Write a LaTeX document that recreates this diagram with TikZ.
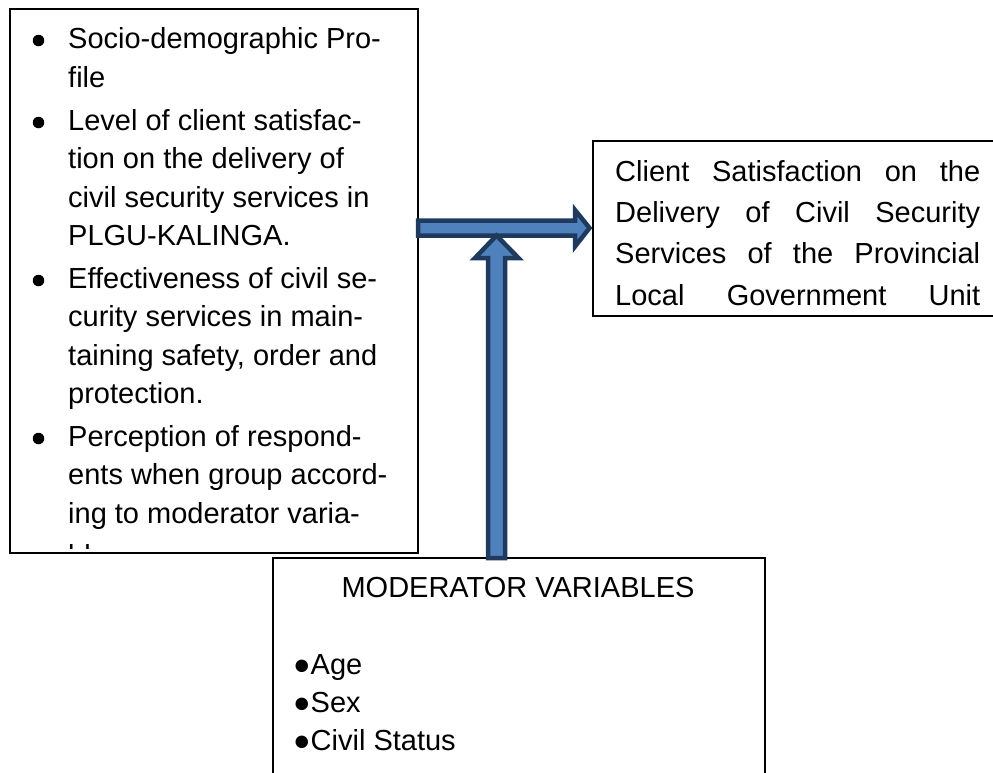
\documentclass[tikz,border=0pt]{standalone}
\usepackage{fontspec}
\setmainfont{Liberation Sans}
\definecolor{arrowfill}{HTML}{4F81BD}
\definecolor{arrowline}{HTML}{1F3A5F}
\tikzset{
  boxframe/.style={draw=black, line width=1.6pt, fill=none},
  txt/.style={anchor=base west, inner sep=0pt, font=\fontsize{29}{38.5}\selectfont},
  ctxt/.style={anchor=base, inner sep=0pt, font=\fontsize{29}{38.5}\selectfont},
  dot/.style={circle, fill=black, inner sep=0pt, minimum size=11.5pt},
  blockarrow/.style={fill=arrowfill, draw=arrowline, line width=4.5pt, line join=miter},
}
\begin{document}
\begin{tikzpicture}[x=1pt,y=-1pt]
\useasboundingbox (0,0) rectangle (993,772);
\clip (0,0) rectangle (993,772);
\fill[white] (0,0) rectangle (993,772);

% boxes
\draw[boxframe] (10,9) rectangle (418,553);
\coordinate (inputsE) at (418,228);
\draw[boxframe] (593,141) rectangle (1005,316);
\coordinate (outcomeW) at (593,228);
\draw[boxframe] (273,558) rectangle (765,790);
\coordinate (moderatorN) at (496.5,558);

% left box text
\begin{scope}
\clip (11,10) rectangle (417,548);
\node[dot] (b1) at (38.5,40.5) {};
\node[txt] (l1) at (68,48) {Socio-demographic Pro-};
\node[txt] (l2) at (68,87) {file};
\node[dot] (b2) at (38.5,122.5) {};
\node[txt] (l3) at (68,130) {Level of client satisfac-};
\node[txt] (l4) at (68,168) {tion on the delivery of};
\node[txt] (l5) at (68,207) {civil security services in};
\node[txt] (l6) at (68,245) {PLGU-KALINGA.};
\node[dot] (b3) at (38.5,280.5) {};
\node[txt] (l7) at (68,288) {Effectiveness of civil se-};
\node[txt] (l8) at (68,326) {curity services in main-};
\node[txt] (l9) at (68,365) {taining safety, order and};
\node[txt] (l10) at (68,403) {protection.};
\node[dot] (b4) at (38.5,438.5) {};
\node[txt] (l11) at (68,446) {Perception of respond-};
\node[txt] (l12) at (68,484) {ents when group accord-};
\node[txt] (l13) at (68,523) {ing to moderator varia-};
\node[txt] (l14) at (68,565) {bles};
\end{scope}

% right box text (justified lines)
\begin{scope}
\clip (594,142) rectangle (993,315);
\node[txt] (r1) at (615,181) {\hbox to 365pt{Client\hfill Satisfaction\hfill on\hfill the}};
\node[txt] (r2) at (615,222) {\hbox to 365pt{Delivery\hfill of\hfill Civil\hfill Security}};
\node[txt] (r3) at (615,263) {\hbox to 365pt{Services\hfill of\hfill the\hfill Provincial}};
\node[txt] (r4) at (615,305) {\hbox to 365pt{Local\hfill Government\hfill Unit}};
\end{scope}

% bottom box text
\node[ctxt] (mtitle) at (518,597) {MODERATOR VARIABLES};
\node[txt] (m1) at (293,674) {●Age};
\node[txt] (m2) at (293,712) {●Sex};
\node[txt] (m3) at (293,750) {●Civil Status};

% horizontal block arrow
\draw[blockarrow] (inputsE |- 0,220.5) -- (575,220.5) -- (575,210) -- ([xshift=-3.5pt]outcomeW) -- (575,246.5) -- (575,235.5) -- (inputsE |- 0,235.5) -- cycle;
% vertical block arrow
\draw[blockarrow] ([xshift=-8.5pt]moderatorN) -- (488,258) -- (475,258) -- (496.5,235.5) -- (518.5,258) -- (505,258) -- ([xshift=8.5pt]moderatorN) -- cycle;
\end{tikzpicture}
\end{document}
